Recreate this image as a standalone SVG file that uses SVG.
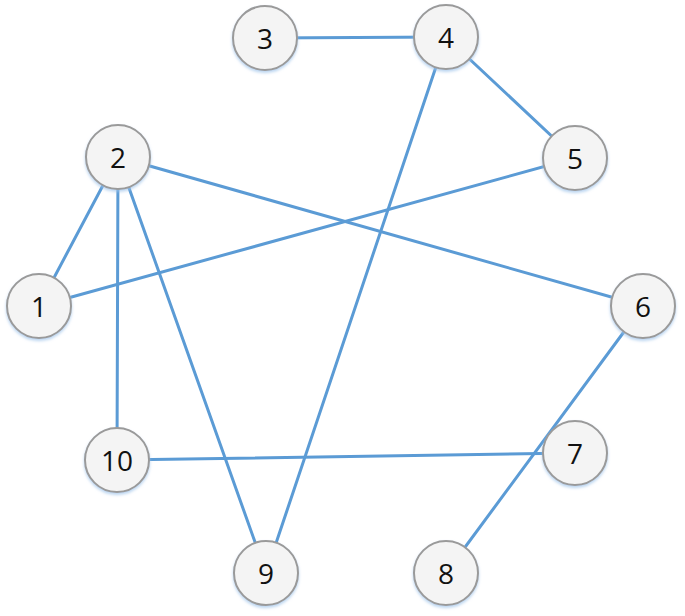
<svg xmlns="http://www.w3.org/2000/svg" width="685" height="616" viewBox="0 0 685 616">
<style>
.edge{stroke:#5B9BD5;stroke-width:3;fill:none;stroke-linecap:round}
.node circle{fill:#F4F4F4;stroke:#9A9A9A;stroke-width:2;filter:url(#sh)}
.node text{font-family:"Open Sans","Liberation Sans",sans-serif;font-size:28px;fill:#111;text-anchor:middle;dominant-baseline:central}
</style>
<defs>
<filter id="sh" x="-30%" y="-30%" width="160%" height="170%">
<feDropShadow dx="0" dy="2" stdDeviation="1.5" flood-color="#9CC2EA" flood-opacity="0.7"/>
</filter>
</defs>
<rect width="685" height="616" fill="#fff"/>
<g id="connectors">
<line class="edge" x1="265" y1="38" x2="446" y2="37"/>
<line class="edge" x1="446" y1="37" x2="575" y2="158"/>
<line class="edge" x1="446" y1="37" x2="266" y2="573"/>
<line class="edge" x1="118" y1="157" x2="39" y2="306"/>
<line class="edge" x1="118" y1="157" x2="643" y2="306"/>
<line class="edge" x1="118" y1="157" x2="117" y2="460"/>
<line class="edge" x1="118" y1="157" x2="266" y2="573"/>
<line class="edge" x1="575" y1="158" x2="39" y2="306"/>
<line class="edge" x1="643" y1="306" x2="446" y2="573"/>
<line class="edge" x1="117" y1="460" x2="575" y2="453"/>
</g>
<g id="node1" class="node"><circle cx="39" cy="306" r="32"/><text x="39" y="306">1</text></g>
<g id="node2" class="node"><circle cx="118" cy="157" r="32"/><text x="118" y="157">2</text></g>
<g id="node3" class="node"><circle cx="265" cy="38" r="32"/><text x="265" y="38">3</text></g>
<g id="node4" class="node"><circle cx="446" cy="37" r="32"/><text x="446" y="37">4</text></g>
<g id="node5" class="node"><circle cx="575" cy="158" r="32"/><text x="575" y="158">5</text></g>
<g id="node6" class="node"><circle cx="643" cy="306" r="32"/><text x="643" y="306">6</text></g>
<g id="node7" class="node"><circle cx="575" cy="453" r="32"/><text x="575" y="453">7</text></g>
<g id="node8" class="node"><circle cx="446" cy="573" r="32"/><text x="446" y="573">8</text></g>
<g id="node9" class="node"><circle cx="266" cy="573" r="32"/><text x="266" y="573">9</text></g>
<g id="node10" class="node"><circle cx="117" cy="460" r="32"/><text x="117" y="460">10</text></g>
</svg>
